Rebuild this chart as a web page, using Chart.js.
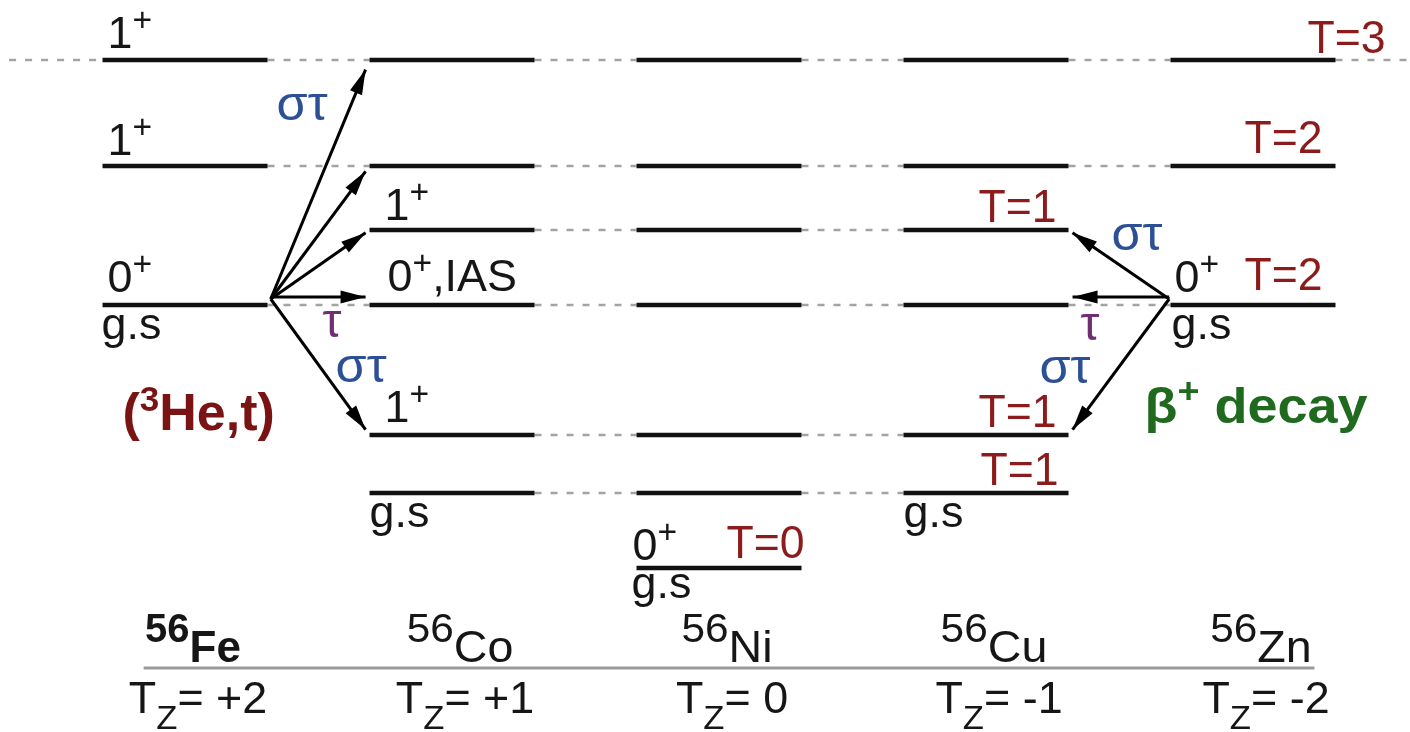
<!DOCTYPE html>
<html>
<head>
<meta charset="utf-8">
<title>Isospin levels, A = 56</title>
<script src="https://cdn.jsdelivr.net/npm/chart.js@4.4.1/dist/chart.umd.min.js"></script>
<style>
    html, body { margin: 0; padding: 0; background: #fff; }
    #wrap { width: 1410px; height: 732px; }
</style>
</head>
<body>
<div id="wrap"><canvas id="levels"></canvas></div>
<script>
const nuclei = ["Fe", "Co", "Ni", "Cu", "Zn"];
const massNumber = "56";
const tzLabels = ["+2", "+1", "0", "-1", "-2"];

// level energies (arbitrary units, 56Ni g.s. = 0)
const levelEnergy = [10.16, 8.04, 6.76, 5.26, 2.66, 1.5, 0];
const levelIsospin = [3, 2, 1, 2, 1, 1, 0];
const levelSpin = ["1+", "1+", "1+", "0+", "1+", "0+", "0+"];
// first and last nucleus that carries the level
const levelFrom = [0, 0, 1, 0, 1, 1, 2];
const levelTo = [4, 4, 3, 4, 3, 3, 2];

// transitions from the T=2 ground states (level 3)
const parentLevel = 3;
const heTargets = [0, 1, 2, 3, 4];   // 56Fe(3He,t)56Co
const betaTargets = [2, 3, 4];       // 56Zn beta+ decay -> 56Cu

const HW = 0.309;          // half width of a level bar
const FAMILY = '"Liberation Sans", Arial, Helvetica, sans-serif';

// ---- datasets ----
const solid = [];
const dashed = [];

levelEnergy.forEach((e, lv) => {
    for (let n = levelFrom[lv]; n <= levelTo[lv]; n++) {
        solid.push({ x: n - HW, y: e }, { x: n + HW, y: e }, { x: n + 0.5, y: null });
    }
    for (let n = levelFrom[lv]; n < levelTo[lv]; n++) {
        dashed.push({ x: n + HW, y: e }, { x: n + 1 - HW, y: e }, { x: n + 1 - HW, y: null });
    }
    if (levelIsospin[lv] === 3) {
        dashed.push({ x: levelFrom[lv] - HW - 0.35, y: e }, { x: levelFrom[lv] - HW, y: e }, { x: levelFrom[lv], y: null });
        dashed.push({ x: levelTo[lv] + HW, y: e }, { x: levelTo[lv] + HW + 0.35, y: e }, { x: levelTo[lv] + 1, y: null });
    }
});

function arrow(fromX, toX, target) {
    const same = target === parentLevel;
    const y0 = levelEnergy[parentLevel] + (same ? 0.16 : 0.12);
    const y1 = levelEnergy[target] + (same ? 0.16 : 0);
    const reach = 0.96;
    return {
        data: [
            { x: fromX, y: y0 },
            { x: fromX + reach * (toX - fromX), y: y0 + reach * (y1 - y0) }
        ],
        showLine: true,
        borderColor: "#000",
        borderWidth: 3,
        pointRadius: 0,
        arrowHead: true
    };
}

const arrows = [];
heTargets.forEach(t => arrows.push(arrow(0 + HW + 0.012, 1 - HW, t)));
betaTargets.forEach(t => arrows.push(arrow(4 - HW - 0.005, 3 + HW, t)));

// ---- text helpers ----
function drawRich(ctx, x, y, parts, st, align) {
    const font = k => {
        let s = st.size;
        if (k === "sup") s = st.size * (st.supScale || 0.75);
        if (k === "sub") s = st.size * 0.78;
        return (st.bold ? "bold " : "") + Math.round(s) + "px " + FAMILY;
    };
    ctx.save();
    ctx.translate(x, y);
    ctx.scale(st.sx || 1, 1);
    ctx.textBaseline = "alphabetic";
    ctx.textAlign = "left";
    ctx.fillStyle = st.color;
    let w = 0;
    parts.forEach(p => { ctx.font = font(p[1]); w += ctx.measureText(p[0]).width; });
    let cx = align === "right" ? -w : align === "center" ? -w / 2 : 0;
    parts.forEach(p => {
        ctx.font = font(p[1]);
        let dy = 0;
        if (p[1] === "sup") dy = -st.size * (st.supRise || 0.38);
        if (p[1] === "sub") dy = st.size * 0.36;
        ctx.fillText(p[0], cx, dy);
        cx += ctx.measureText(p[0]).width;
    });
    ctx.restore();
}

const spinParts = s => [[s.slice(0, -1)], [s.slice(-1), "sup"]];

const black = { size: 44, sx: 1.02, color: "#161616" };
const red = { size: 46, sx: 0.97, color: "#8c1c1c" };
const blue = { size: 48, sx: 1.05, color: "#2c4f96" };
const purple = { size: 48, sx: 1.0, color: "#6e2f73" };
const heStyle = { size: 52, sx: 1.0, bold: true, color: "#7a1414", supScale: 0.68, supRise: 0.36 };
const betaStyle = { size: 50, sx: 1.08, bold: true, color: "#1f6a1f", supScale: 0.7, supRise: 0.4 };
const nucStyle = { size: 44, sx: 1.06, color: "#161616", supScale: 0.9, supRise: 0.45 };
const nucBold = Object.assign({}, nucStyle, { bold: true, sx: 1.0 });

// [nucleus, level, edge, dx, dy]
const spinSpots = [[0, 0, "left", 5, -12], [0, 1, "left", 5, -11], [0, 3, "left", 5, -13],
    [1, 2, "left", 15, -10], [1, 4, "left", 15, -13], [2, 6, "left", -4, -8], [4, 3, "left", 4, -13]];
const gsSpots = [[0, 3, "left", -1, 34], [1, 5, "left", 0, 34], [2, 6, "left", -5, 30],
    [3, 5, "left", 0, 34], [4, 3, "left", 1, 34]];
const isoSpots = [[2, 6, "left", 90, -10], [3, 2, "right", -12, -8], [3, 4, "right", -12, -8],
    [3, 5, "right", -10, -8], [4, 3, "left", 74, -15], [4, 1, "left", 74, -13], [4, 0, "left", 137, -7]];

const textPlugin = {
    id: "levelText",
    afterDraw(chart) {
        const ctx = chart.ctx;
        const xs = chart.scales.x, ys = chart.scales.y;
        const ex = (n, edge) => xs.getPixelForValue(n + (edge === "left" ? -HW : edge === "right" ? HW : 0));
        const ey = lv => ys.getPixelForValue(levelEnergy[lv]);

        spinSpots.forEach(([n, lv, edge, dx, dy]) =>
            drawRich(ctx, ex(n, edge) + dx, ey(lv) + dy, spinParts(levelSpin[lv]), black));
        drawRich(ctx, ex(1, "left") + 18, ey(3) - 14, [["0"], ["+", "sup"], [",IAS"]], black);
        gsSpots.forEach(([n, lv, edge, dx, dy]) =>
            drawRich(ctx, ex(n, edge) + dx, ey(lv) + dy, [["g.s"]], black));
        isoSpots.forEach(([n, lv, edge, dx, dy]) =>
            drawRich(ctx, ex(n, edge) + dx, ey(lv) + dy, [["T=" + levelIsospin[lv]]], red,
                edge === "right" ? "right" : "left"));

        // transition labels
        drawRich(ctx, ex(0, "right") + 9, ey(0) + 60, [["στ"]], blue);
        drawRich(ctx, ex(0, "right") + 55, ey(3) + 32, [["τ"]], purple);
        drawRich(ctx, ex(0, "right") + 68, ey(4) - 53, [["στ"]], blue);
        drawRich(ctx, ex(0, "left") + 20, ey(4) - 5, [["("], ["3", "sup"], ["He,t)"]], heStyle);
        drawRich(ctx, ex(3, "right") + 43, ey(2) + 20, [["στ"]], blue);
        drawRich(ctx, ex(3, "right") + 12, ey(3) + 35, [["τ"]], purple);
        drawRich(ctx, ex(3, "right") - 29, ey(4) - 52, [["στ"]], blue);
        drawRich(ctx, ex(4, "left") - 26, ey(4) - 12, [["β"], ["+", "sup"], [" decay"]], betaStyle);

        // nucleus names and Tz
        const base = ey(levelEnergy.length - 1);
        nuclei.forEach((name, n) => {
            drawRich(ctx, ex(n) + 8, base + 94, [[massNumber, "sup"], [name]],
                n === 0 ? nucBold : nucStyle, "center");
            drawRich(ctx, ex(n) + 13, base + 145, [["T"], ["Z", "sub"], ["= " + tzLabels[n]]],
                black, "center");
        });
    }
};

const arrowPlugin = {
    id: "arrowHeads",
    afterDatasetsDraw(chart) {
        const ctx = chart.ctx;
        chart.data.datasets.forEach((ds, i) => {
            if (!ds.arrowHead) return;
            const pts = chart.getDatasetMeta(i).data;
            const a = pts[0], b = pts[1];
            const ang = Math.atan2(b.y - a.y, b.x - a.x);
            const len = 25, half = 6.5;
            ctx.save();
            ctx.translate(b.x, b.y);
            ctx.rotate(ang);
            ctx.beginPath();
            ctx.moveTo(0, 0);
            ctx.lineTo(-len, -half);
            ctx.lineTo(-len, half);
            ctx.closePath();
            ctx.fillStyle = "#000";
            ctx.fill();
            ctx.restore();
        });
    }
};

new Chart(document.getElementById("levels"), {
    type: "scatter",
    data: {
        datasets: [
            ...arrows,
            {
                data: solid,
                showLine: true,
                spanGaps: false,
                borderColor: "#111",
                borderWidth: 4.5,
                pointRadius: 0
            },
            {
                // separator above the Tz row
                data: [{ x: -0.155, y: -2.0 }, { x: nuclei.length - 1 + 0.23, y: -2.0 }],
                showLine: true,
                borderColor: "#9a9a9a",
                borderWidth: 3,
                pointRadius: 0
            },
            {
                data: dashed,
                showLine: true,
                spanGaps: false,
                borderColor: "#a3a3a3",
                borderWidth: 2.5,
                borderDash: [7, 9],
                pointRadius: 0
            }
        ]
    },
    options: {
        responsive: true,
        maintainAspectRatio: false,
        animation: false,
        events: [],
        layout: { padding: 0 },
        plugins: {
            legend: { display: false },
            tooltip: { enabled: false }
        },
        scales: {
            x: { type: "linear", min: -0.693, max: 4.588, display: false },
            y: { type: "linear", min: -3.28, max: 11.36, display: false }
        }
    },
    plugins: [arrowPlugin, textPlugin]
});
</script>
</body>
</html>
